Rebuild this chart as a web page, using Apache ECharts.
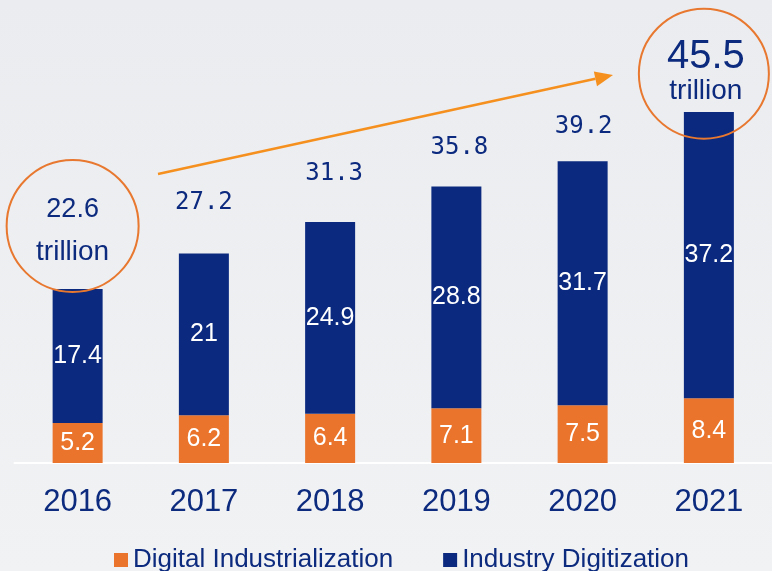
<!DOCTYPE html>
<html>
<head>
<meta charset="utf-8">
<style>
  html, body { margin: 0; padding: 0; }
  #chart { width: 772px; height: 571px; }
</style>
<script src="https://cdn.jsdelivr.net/npm/echarts@6/dist/echarts.min.js"></script>
</head>
<body>
<div id="chart"></div>
<script>
// Digital economy scale, trillion yuan
const years = ['2016', '2017', '2018', '2019', '2020', '2021'];
const digitalIndustrialization = [5.2, 6.2, 6.4, 7.1, 7.5, 8.4];
const industryDigitization = [17.4, 21, 24.9, 28.8, 31.7, 37.2];
const totals = [22.6, 27.2, 31.3, 35.8, 39.2, 45.5];

const NAVY = '#0b2a7f';
const ORANGE = '#ea742b';
const TEXT_NAVY = '#0c2a7e';
const SANS = "'Liberation Sans', Arial, sans-serif";
const MONO = "'DejaVu Sans Mono', monospace";

// distance of each total label above its bar (style only)
const totalLift = [21, 39, 36, 28, 22, 5];
const totalShift = [-5, 0, 4, 3, 1, -3];

const totalItems = totals.map((v, i) => {
  const item = { value: v, label: { distance: totalLift[i], offset: [totalShift[i], 0] } };
  if (i === 0) {
    item.label.formatter = '{a|' + v + '}\n{u|trillion}';
  } else if (i === totals.length - 1) {
    item.label.formatter = '{b|' + v + '}\n{u|trillion}';
  }
  return item;
});

const chart = echarts.init(document.getElementById('chart'));
chart.setOption({
  backgroundColor: new echarts.graphic.LinearGradient(0, 0, 0, 1, [
    { offset: 0, color: '#ebecef' },
    { offset: 1, color: '#f1f2f4' }
  ]),
  animation: false,
  grid: { left: 14.5, width: 762.6, top: 78, height: 385 },
  legend: {
    left: 109,
    top: 542,
    itemWidth: 14,
    itemHeight: 14,
    itemGap: 50,
    icon: 'rect',
    textStyle: { fontFamily: SANS, fontSize: 26, color: TEXT_NAVY },
    data: ['Digital Industrialization', 'Industry Digitization']
  },
  xAxis: {
    type: 'category',
    data: years,
    axisTick: { show: false },
    axisLine: { lineStyle: { color: '#ffffff', width: 2 } },
    axisLabel: { fontFamily: SANS, fontSize: 31, color: TEXT_NAVY, margin: 24 }
  },
  yAxis: { type: 'value', min: 0, max: 50, show: false, splitLine: { show: false } },
  series: [
    {
      name: 'Digital Industrialization',
      type: 'bar',
      stack: 'scale',
      barWidth: 50,
      itemStyle: { color: ORANGE },
      label: { show: true, position: 'inside', color: '#ffffff', fontFamily: SANS, fontSize: 25 },
      data: digitalIndustrialization
    },
    {
      name: 'Industry Digitization',
      type: 'bar',
      stack: 'scale',
      barWidth: 50,
      itemStyle: { color: NAVY },
      label: { show: true, position: 'inside', color: '#ffffff', fontFamily: SANS, fontSize: 25 },
      data: industryDigitization
    },
    {
      name: 'Total',
      type: 'scatter',
      symbolSize: 0,
      silent: true,
      z: 5,
      itemStyle: { opacity: 1, color: NAVY },
      label: {
        show: true,
        position: 'top',
        opacity: 1,
        color: NAVY,
        fontFamily: MONO,
        fontSize: 24,
        rich: {
          a: { fontFamily: SANS, fontSize: 27, color: TEXT_NAVY, lineHeight: 52, align: 'center' },
          b: { fontFamily: SANS, fontSize: 40, color: TEXT_NAVY, lineHeight: 38, align: 'center' },
          u: { fontFamily: SANS, fontSize: 28, color: TEXT_NAVY, lineHeight: 32, align: 'center' }
        }
      },
      data: totalItems
    }
  ]
});

// Highlight circles around the first and last totals, and the growth arrow
const p16 = chart.convertToPixel({ gridIndex: 0 }, [years[0], totals[0]]);
const p21 = chart.convertToPixel({ gridIndex: 0 }, [years[5], totals[5]]);

const arrowStart = [158, 174];
const arrowTip = [613, 75];
const ang = Math.atan2(arrowTip[1] - arrowStart[1], arrowTip[0] - arrowStart[0]);
const headLen = 18, headHalf = 7.5;
const base = [arrowTip[0] - headLen * Math.cos(ang), arrowTip[1] - headLen * Math.sin(ang)];
const nx = -Math.sin(ang), ny = Math.cos(ang);

chart.setOption({
  graphic: [
    {
      type: 'circle', z: 100,
      shape: { cx: p16[0] - 5, cy: p16[1] - 63, r: 66 },
      style: { fill: 'none', stroke: '#e8782f', lineWidth: 2 }
    },
    {
      type: 'circle', z: 100,
      shape: { cx: p21[0] - 5, cy: p21[1] - 39, r: 65 },
      style: { fill: 'none', stroke: '#e8782f', lineWidth: 2 }
    },
    {
      type: 'line', z: 100,
      shape: { x1: arrowStart[0], y1: arrowStart[1], x2: base[0], y2: base[1] },
      style: { stroke: '#f5901f', lineWidth: 2.5 }
    },
    {
      type: 'polygon', z: 100,
      shape: { points: [arrowTip, [base[0] + nx * headHalf, base[1] + ny * headHalf], [base[0] - nx * headHalf, base[1] - ny * headHalf]] },
      style: { fill: '#f5901f' }
    }
  ]
});
</script>
</body>
</html>
